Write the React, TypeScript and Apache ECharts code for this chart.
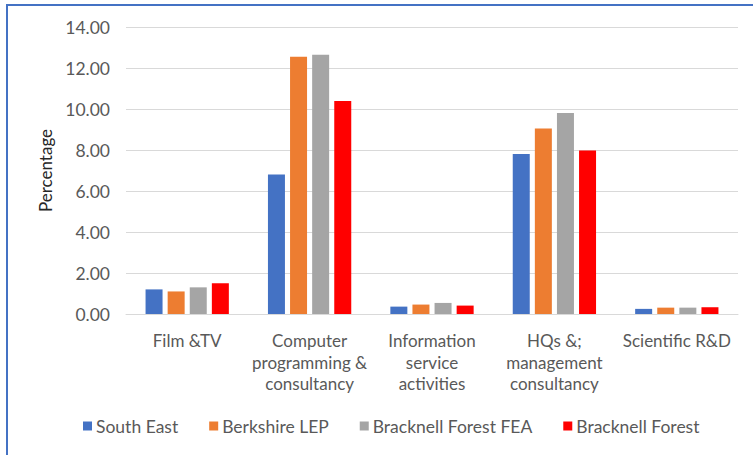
import React, { useEffect, useRef } from "react";
import * as echarts from "echarts";

const categories = [
  "Film &TV",
  "Computer\nprogramming &\nconsultancy",
  "Information\nservice\nactivities",
  "HQs &;\nmanagement\nconsultancy",
  "Scientific R&D",
];
const seriesNames = ["South East", "Berkshire LEP", "Bracknell Forest FEA", "Bracknell Forest"];
const southEast = [1.2, 6.8, 0.36, 7.8, 0.25];
const berkshireLEP = [1.1, 12.55, 0.46, 9.05, 0.31];
const bracknellFEA = [1.3, 12.65, 0.54, 9.8, 0.31];
const bracknellForest = [1.5, 10.39, 0.41, 7.97, 0.33];
const colors = ["#4472C4", "#ED7D31", "#A5A5A5", "#FF0000"];

const FONT = "Lato, 'Noto Sans', sans-serif";

export default function App() {
  const ref = useRef<HTMLDivElement>(null);
  useEffect(() => {
    if (!ref.current) return;
    const chart = echarts.init(ref.current, null, { renderer: "svg" });
    const values = [southEast, berkshireLEP, bracknellFEA, bracknellForest];
    chart.setOption({
      animation: false,
      textStyle: { fontFamily: FONT },
      grid: { left: 126, right: 15, top: 27, bottom: 141, containLabel: false },
      legend: {
        left: 78,
        top: 412,
        itemWidth: 9,
        itemHeight: 9,
        itemGap: 31,
        icon: "rect",
        textStyle: { fontFamily: FONT, fontSize: 17.5, color: "#595959", padding: [0, 0, 0, -1] },
        data: seriesNames,
      },
      xAxis: {
        type: "category",
        data: categories,
        axisTick: { show: false },
        axisLine: { lineStyle: { color: "#D9D9D9", width: 1 } },
        axisLabel: {
          interval: 0,
          fontFamily: FONT,
          fontSize: 17,
          color: "#595959",
          lineHeight: 21.5,
          margin: 16,
        },
      },
      yAxis: {
        type: "value",
        min: 0,
        max: 14,
        interval: 2,
        name: "Percentage",
        nameLocation: "middle",
        nameGap: 72,
        nameTextStyle: { fontFamily: FONT, fontSize: 17, color: "#262626" },
        axisLine: { show: false },
        axisTick: { show: false },
        splitLine: { lineStyle: { color: "#D9D9D9", width: 1 } },
        axisLabel: {
          fontFamily: FONT,
          fontSize: 17.5,
          color: "#595959",
          margin: 16,
          formatter: (v: number) => v.toFixed(2),
        },
      },
      series: seriesNames.map((name, i) => ({
        name,
        type: "bar",
        data: values[i],
        barWidth: 17,
        barGap: "30%",
        itemStyle: { color: colors[i] },
      })),
    });
    return () => chart.dispose();
  }, []);
  return (
    <div style={{ position: "fixed", left: 0, top: 0, width: 753, height: 455, background: "#fff" }}>
      <div
        style={{
          position: "absolute",
          left: 6,
          top: 4,
          right: -10,
          bottom: -10,
          borderTop: "2px solid #4472C4",
          borderLeft: "2px solid #4472C4",
        }}
      />
      <div ref={ref} style={{ position: "absolute", left: 0, top: 0, width: 753, height: 455 }} />
    </div>
  );
}
